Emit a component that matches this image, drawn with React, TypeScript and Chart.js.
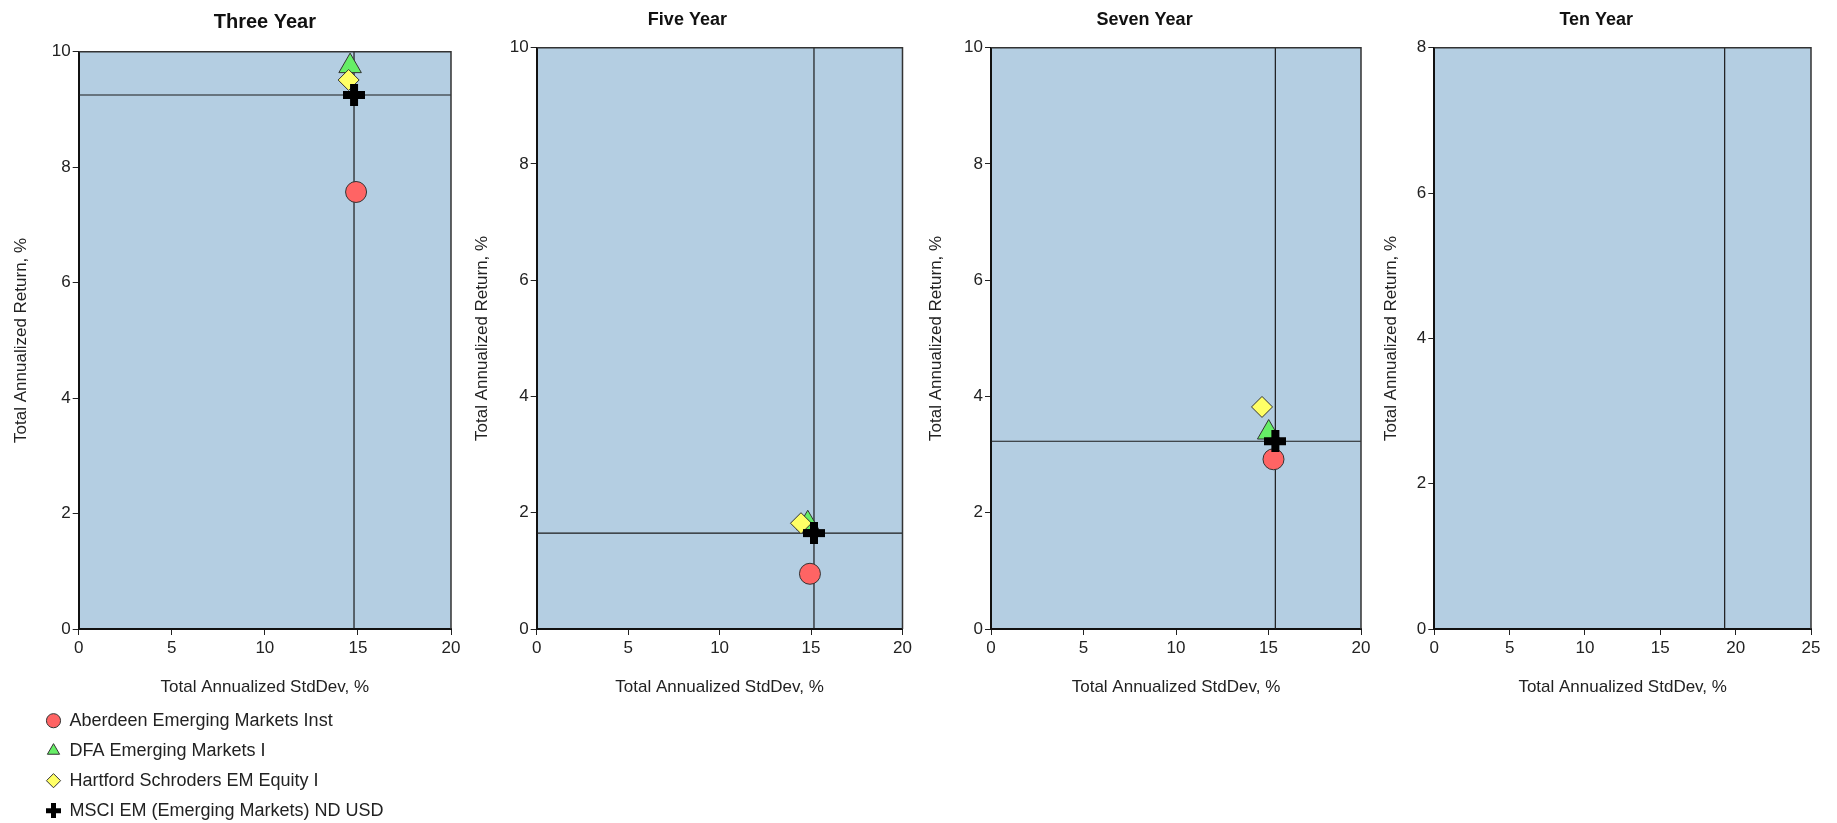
import React, { useEffect, useRef } from "react";
import { Chart, registerables } from "chart.js";

Chart.register(...registerables);

// ---------- data ----------
const periods = ["Three Year", "Five Year", "Seven Year", "Ten Year"];
const seriesNames = [
  "Aberdeen Emerging Markets Inst",
  "DFA Emerging Markets I",
  "Hartford Schroders EM Equity I",
  "MSCI EM (Emerging Markets) ND USD",
];
const aberdeenStdDev = [14.9, 14.94, 15.27, null];
const aberdeenReturn = [7.57, 0.95, 2.92, null];
const dfaStdDev = [14.58, 14.82, 15.01, null];
const dfaReturn = [9.75, 1.82, 3.38, null];
const hartfordStdDev = [14.5, 14.45, 14.65, null];
const hartfordReturn = [9.51, 1.82, 3.82, null];
const msciStdDev = [14.79, 15.16, 15.37, 19.27];
const msciReturn = [9.25, 1.65, 3.23, null];
const xAxisMax = [20, 20, 20, 25];
const yAxisMax = [10, 10, 10, 8];
const xTickStep = 5;
const yTickStep = 2;
const xAxisTitle = "Total Annualized StdDev, %";
const yAxisTitle = "Total Annualized Return, %";

// ---------- styling / layout ----------
const FONT = "'Liberation Sans', Arial, sans-serif";
const PLOT_BG = "#B4CEE2";
const TEXT = "#222";
const seriesFill = ["#FF6464", "#66EE66", "#FFFF66", "#000000"];
const seriesRadius = [10.5, 13, 10.5, 11];

const panels = [
  { left: 0, width: 470, padL: 11.5, padR: 19, yAxisW: 67.2, titleSize: 20, padTop: 10, padBottom: 17.7, full: false, legend: true },
  { left: 470, width: 452, padL: 2.3, padR: 19.5, yAxisW: 64.4, titleSize: 18, padTop: 9, padBottom: 17.1, full: true, legend: false },
  { left: 922, width: 453, padL: 4.5, padR: 12.3, yAxisW: 64.5, titleSize: 18, padTop: 9, padBottom: 17.1, full: true, legend: false },
  { left: 1375, width: 462, padL: 6.5, padR: 26, yAxisW: 52.8, titleSize: 18, padTop: 9, padBottom: 17.1, full: true, legend: false },
];
const HEIGHT = 823;
const X_AXIS_H = 69;
const LEGEND_H = 125;
const LEGEND_LEFT = 34.5;
const LEGEND_TOP = 699.7;

function makePlus(size: number, thick: number) {
  const c = document.createElement("canvas");
  c.width = size;
  c.height = size;
  const ctx = c.getContext("2d")!;
  ctx.fillStyle = "#000";
  const o = (size - thick) / 2;
  ctx.fillRect(o, 0, thick, size);
  ctx.fillRect(0, o, size, thick);
  return c;
}

const plotFrame = {
  id: "plotFrame",
  beforeDraw(chart: any) {
    const { ctx, chartArea: a } = chart;
    ctx.save();
    ctx.fillStyle = PLOT_BG;
    ctx.fillRect(a.left, a.top, a.right - a.left, a.bottom - a.top);
    ctx.restore();
  },
  afterDatasetsDraw(chart: any) {
    const { ctx, chartArea: a } = chart;
    ctx.save();
    ctx.strokeStyle = "#333";
    ctx.lineWidth = 1.5;
    ctx.beginPath();
    ctx.moveTo(a.left, a.top);
    ctx.lineTo(a.right, a.top);
    ctx.lineTo(a.right, a.bottom);
    ctx.stroke();
    ctx.restore();
  },
};

const legendShift = {
  id: "legendShift",
  afterLayout(chart: any) {
    const lg = chart.legend;
    if (!lg || !lg.options.display) return;
    const dx = LEGEND_LEFT - lg.left;
    const dy = LEGEND_TOP - lg.top;
    lg.left += dx;
    lg.right += dx;
    lg.top += dy;
    lg.bottom += dy;
  },
};

function buildConfig(i: number, plusBig: HTMLCanvasElement, plusSmall: HTMLCanvasElement) {
  const p = panels[i];
  const xs = [aberdeenStdDev, dfaStdDev, hartfordStdDev, msciStdDev];
  const ys = [aberdeenReturn, dfaReturn, hartfordReturn, msciReturn];
  const styles: any[] = ["circle", "triangle", "rectRot", plusBig];
  const datasets: any[] = [];

  if (msciStdDev[i] != null) {
    datasets.push({
      label: "refV",
      data: [
        { x: msciStdDev[i], y: 0 },
        { x: msciStdDev[i], y: yAxisMax[i] },
      ],
      showLine: true,
      pointRadius: 0,
      borderColor: "#1a1a1a",
      borderWidth: 1.2,
      order: 20,
    });
  }
  if (msciReturn[i] != null) {
    datasets.push({
      label: "refH",
      data: [
        { x: 0, y: msciReturn[i] },
        { x: xAxisMax[i], y: msciReturn[i] },
      ],
      showLine: true,
      pointRadius: 0,
      borderColor: "#1a1a1a",
      borderWidth: 1.2,
      order: 20,
    });
  }
  seriesNames.forEach((name, k) => {
    const x = xs[k][i];
    const y = ys[k][i];
    datasets.push({
      label: name,
      data: x != null && y != null ? [{ x, y }] : [],
      pointStyle: styles[k],
      pointRadius: seriesRadius[k],
      pointHoverRadius: seriesRadius[k],
      backgroundColor: seriesFill[k],
      borderColor: k === 3 ? "#000" : "#333",
      borderWidth: 1,
      showLine: false,
      order: 10 - k,
    });
  });

  const tickFont = { family: FONT, size: 17 };

  return {
    type: "scatter",
    data: { datasets },
    plugins: p.legend ? [plotFrame, legendShift] : [plotFrame],
    options: {
      responsive: false,
      animation: false,
      events: [],
      layout: {
        padding: { left: p.padL, right: p.padR, top: 0, bottom: p.legend ? 0 : LEGEND_H },
      },
      plugins: {
        tooltip: { enabled: false },
        title: {
          display: true,
          text: periods[i],
          fullSize: p.full,
          color: "#111",
          font: { family: FONT, size: p.titleSize, weight: "bold" },
          padding: { top: p.padTop, bottom: p.padBottom },
        },
        legend: {
          display: p.legend,
          position: "bottom",
          align: "start",
          maxHeight: LEGEND_H,
          labels: {
            usePointStyle: true,
            boxWidth: 14,
            boxHeight: 10,
            padding: 12,
            color: TEXT,
            font: { family: FONT, size: 18 },
            generateLabels: (chart: any) => {
              const items = (Chart.defaults as any).plugins.legend.labels.generateLabels(chart);
              return items
                .filter((it: any) => seriesNames.includes(it.text))
                .sort((a: any, b: any) => a.datasetIndex - b.datasetIndex)
                .map((it: any) =>
                  it.text === seriesNames[3] ? { ...it, pointStyle: plusSmall } : it
                );
            },
          },
        },
      },
      scales: {
        x: {
          type: "linear",
          min: 0,
          max: xAxisMax[i],
          ticks: { stepSize: xTickStep, font: tickFont, color: TEXT, padding: 3, maxRotation: 0 },
          grid: { drawOnChartArea: false, drawTicks: true, tickLength: 6, color: "#222" },
          border: { display: true, color: "#111", width: 2 },
          title: {
            display: true,
            text: xAxisTitle,
            color: TEXT,
            font: { family: FONT, size: 17 },
            padding: { top: 0, bottom: 0 },
          },
          afterFit: (s: any) => {
            s.height = X_AXIS_H;
          },
        },
        y: {
          type: "linear",
          min: 0,
          max: yAxisMax[i],
          ticks: { stepSize: yTickStep, font: tickFont, color: TEXT, padding: 2 },
          grid: { drawOnChartArea: false, drawTicks: true, tickLength: 6, color: "#222" },
          border: { display: true, color: "#111", width: 2 },
          title: {
            display: true,
            text: yAxisTitle,
            color: TEXT,
            font: { family: FONT, size: 17 },
            padding: { top: 0, bottom: 0 },
          },
          afterFit: (s: any) => {
            s.width = p.yAxisW;
          },
        },
      },
    },
  };
}

function Panel({ index }: { index: number }) {
  const ref = useRef<HTMLCanvasElement | null>(null);
  useEffect(() => {
    if (!ref.current) return;
    const plusBig = makePlus(22, 8);
    const plusSmall = makePlus(15, 5);
    const chart = new Chart(ref.current, buildConfig(index, plusBig, plusSmall) as any);
    return () => chart.destroy();
  }, [index]);
  const p = panels[index];
  return (
    <div style={{ position: "absolute", left: p.left, top: 0, width: p.width, height: HEIGHT }}>
      <canvas ref={ref} width={p.width} height={HEIGHT} style={{ width: p.width, height: HEIGHT, display: "block" }} />
    </div>
  );
}

export default function App() {
  return (
    <div
      style={{
        position: "fixed",
        left: 0,
        top: 0,
        width: 1837,
        height: HEIGHT,
        overflow: "hidden",
        background: "#fff",
        fontFamily: FONT,
      }}
    >
      {panels.map((_, i) => (
        <Panel key={i} index={i} />
      ))}
    </div>
  );
}
